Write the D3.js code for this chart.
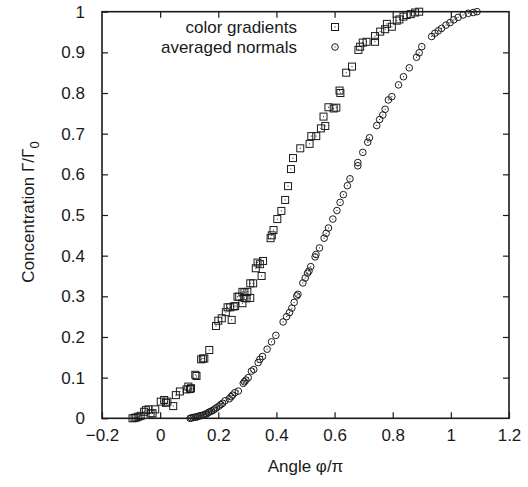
<!DOCTYPE html>
<html>
<head>
<meta charset="utf-8">
<script src="https://cdn.jsdelivr.net/npm/d3@7"></script>
<style>
body { margin: 0; background: #fff; }
text { font-family: "Liberation Sans", Arial, Helvetica, sans-serif; }
</style>
</head>
<body>
<svg id="chart" width="528" height="487"></svg>
<script>
// color gradients (squares)
var gradX = [-0.095, -0.088, -0.082, -0.075, -0.067, -0.055, -0.049, -0.040, -0.033, -0.026,
    -0.017, 0.002, 0.014, 0.020, 0.025, 0.045, 0.054, 0.068, 0.091, 0.097,
    0.103, 0.106, 0.121, 0.125, 0.141, 0.147, 0.152, 0.169, 0.192, 0.200,
    0.212, 0.226, 0.232, 0.241, 0.246, 0.253, 0.258, 0.266, 0.272, 0.283,
    0.283, 0.290, 0.290, 0.297, 0.300, 0.310, 0.310, 0.320, 0.329, 0.335,
    0.343, 0.349, 0.354, 0.380, 0.384, 0.390, 0.403, 0.417, 0.430, 0.440,
    0.450, 0.457, 0.482, 0.514, 0.520, 0.537, 0.553, 0.568, 0.562, 0.579,
    0.597, 0.606, 0.617, 0.620, 0.640, 0.660, 0.682, 0.688, 0.697, 0.710,
    0.739, 0.739, 0.757, 0.774, 0.780, 0.797, 0.814, 0.823, 0.837, 0.848,
    0.862, 0.877, 0.891];
var gradY = [0.000, 0.001, 0.002, 0.004, 0.006, 0.016, 0.020, 0.022, 0.012, 0.012,
    0.022, 0.041, 0.045, 0.038, 0.041, 0.030, 0.057, 0.066, 0.071, 0.078,
    0.072, 0.074, 0.107, 0.104, 0.145, 0.147, 0.147, 0.168, 0.227, 0.240,
    0.246, 0.261, 0.273, 0.273, 0.242, 0.275, 0.276, 0.299, 0.299, 0.283,
    0.311, 0.310, 0.296, 0.295, 0.311, 0.296, 0.332, 0.332, 0.369, 0.383,
    0.379, 0.350, 0.387, 0.443, 0.450, 0.463, 0.490, 0.510, 0.537, 0.571,
    0.613, 0.640, 0.664, 0.675, 0.694, 0.694, 0.713, 0.719, 0.742, 0.765,
    0.762, 0.764, 0.806, 0.800, 0.850, 0.865, 0.906, 0.914, 0.924, 0.926,
    0.926, 0.940, 0.951, 0.957, 0.970, 0.963, 0.978, 0.981, 0.988, 0.992,
    0.994, 0.998, 1.000];

// averaged normals (circles)
var normX = [0.103, 0.108, 0.114, 0.120, 0.126, 0.131, 0.137, 0.143, 0.149, 0.155,
    0.160, 0.166, 0.171, 0.177, 0.183, 0.188, 0.194, 0.203, 0.209, 0.215,
    0.223, 0.238, 0.244, 0.249, 0.257, 0.269, 0.286, 0.290, 0.295, 0.303,
    0.314, 0.322, 0.337, 0.343, 0.352, 0.368, 0.383, 0.398, 0.423, 0.435,
    0.445, 0.453, 0.461, 0.470, 0.474, 0.491, 0.499, 0.507, 0.512, 0.518,
    0.533, 0.536, 0.548, 0.564, 0.571, 0.579, 0.594, 0.608, 0.619, 0.630,
    0.644, 0.653, 0.680, 0.680, 0.697, 0.714, 0.720, 0.745, 0.755, 0.766,
    0.774, 0.785, 0.797, 0.820, 0.837, 0.857, 0.882, 0.891, 0.900, 0.934,
    0.945, 0.957, 0.968, 0.983, 0.997, 1.010, 1.025, 1.042, 1.060, 1.077,
    1.090];
var normY = [0.000, 0.001, 0.002, 0.003, 0.003, 0.005, 0.006, 0.007, 0.008, 0.010,
    0.011, 0.014, 0.016, 0.018, 0.020, 0.023, 0.026, 0.030, 0.034, 0.037,
    0.043, 0.048, 0.053, 0.057, 0.063, 0.067, 0.086, 0.090, 0.094, 0.100,
    0.116, 0.120, 0.137, 0.145, 0.152, 0.170, 0.188, 0.204, 0.237, 0.250,
    0.260, 0.271, 0.285, 0.301, 0.305, 0.333, 0.345, 0.357, 0.362, 0.373,
    0.397, 0.403, 0.419, 0.443, 0.455, 0.468, 0.490, 0.511, 0.531, 0.550,
    0.572, 0.589, 0.621, 0.629, 0.654, 0.679, 0.690, 0.720, 0.735, 0.746,
    0.760, 0.783, 0.791, 0.820, 0.840, 0.862, 0.888, 0.899, 0.914, 0.939,
    0.947, 0.953, 0.959, 0.967, 0.973, 0.980, 0.986, 0.992, 0.996, 0.998,
    1.000];

var xTicks = [-0.2, 0, 0.2, 0.4, 0.6, 0.8, 1, 1.2];
var xTickLabels = ["\u22120.2", "0", "0.2", "0.4", "0.6", "0.8", "1", "1.2"];
var yTicks = [0, 0.1, 0.2, 0.3, 0.4, 0.5, 0.6, 0.7, 0.8, 0.9, 1];
var yTickLabels = ["0", "0.1", "0.2", "0.3", "0.4", "0.5", "0.6", "0.7", "0.8", "0.9", "1"];
var legendLabels = ["color gradients", "averaged normals"];

var svg = d3.select("#chart");
var plotLeft = 102, plotRight = 509, plotTop = 11.7, plotBottom = 418.3;
var ink = "#1a1a1a";
var fontSize = 17;

var x = d3.scaleLinear().domain([-0.2, 1.2]).range([plotLeft, plotRight]);
var y = d3.scaleLinear().domain([0, 1]).range([plotBottom, plotTop]);

var style_axis = function(g) {
    g.select(".domain").remove();
    g.selectAll(".tick line").attr("stroke", ink).attr("stroke-width", 1.2);
    g.selectAll(".tick text").attr("fill", ink).attr("font-size", fontSize)
        .attr("font-family", "'Liberation Sans', Arial, sans-serif");
};

svg.append("g").attr("transform", "translate(0," + plotBottom + ")")
    .call(d3.axisBottom(x).tickValues(xTicks).tickSizeInner(-6).tickSizeOuter(0).tickPadding(11)
        .tickFormat(function(d, i) { return xTickLabels[i]; }))
    .call(style_axis);
svg.append("g").attr("transform", "translate(0," + plotTop + ")")
    .call(d3.axisTop(x).tickValues(xTicks.slice(1, -1)).tickSizeInner(-6).tickSizeOuter(0).tickFormat(""))
    .call(style_axis);
svg.append("g").attr("transform", "translate(" + plotLeft + ",0)")
    .call(d3.axisLeft(y).tickValues(yTicks).tickSizeInner(-6).tickSizeOuter(0).tickPadding(17)
        .tickFormat(function(d, i) { return yTickLabels[i]; }))
    .call(style_axis);
svg.append("g").attr("transform", "translate(" + plotRight + ",0)")
    .call(d3.axisRight(y).tickValues(yTicks.slice(1, -1)).tickSizeInner(-6).tickSizeOuter(0).tickFormat(""))
    .call(style_axis);

svg.append("rect")
    .attr("x", plotLeft).attr("y", plotTop)
    .attr("width", plotRight - plotLeft).attr("height", plotBottom - plotTop)
    .attr("fill", "none").attr("stroke", ink).attr("stroke-width", 1.6);

var draw_square = function(sel, cx, cy) {
    sel.append("rect").attr("x", cx - 3.5).attr("y", cy - 3.5).attr("width", 7).attr("height", 7)
        .attr("fill", "none").attr("stroke", ink).attr("stroke-width", 1);
    sel.append("rect").attr("x", cx - 0.5).attr("y", cy - 0.5).attr("width", 1).attr("height", 1)
        .attr("fill", ink);
};

var draw_circle = function(sel, cx, cy) {
    sel.append("circle").attr("cx", cx).attr("cy", cy).attr("r", 3.3)
        .attr("fill", "none").attr("stroke", ink).attr("stroke-width", 1);
    sel.append("rect").attr("x", cx - 0.5).attr("y", cy - 0.5).attr("width", 1).attr("height", 1)
        .attr("fill", ink);
};

var gradPts = gradX.map(function(d, i) { return [d, gradY[i]]; });
var normPts = normX.map(function(d, i) { return [d, normY[i]]; });

svg.append("g").selectAll("g").data(gradPts).enter().append("g")
    .each(function(d) { draw_square(d3.select(this), x(d[0]), y(d[1])); });
svg.append("g").selectAll("g").data(normPts).enter().append("g")
    .each(function(d) { draw_circle(d3.select(this), x(d[0]), y(d[1])); });

// legend
var legend = svg.append("g");
legend.selectAll("text").data(legendLabels).enter().append("text")
    .attr("x", 297)
    .attr("y", function(d, i) { return 27 + i * 20; })
    .attr("dy", "0.35em")
    .attr("text-anchor", "end")
    .attr("font-size", fontSize)
    .attr("fill", ink)
    .text(function(d) { return d; });
draw_square(legend, 335, 27);
draw_circle(legend, 335, 47);

// axis titles
svg.append("text")
    .attr("x", (plotLeft + plotRight) / 2).attr("y", 472)
    .attr("text-anchor", "middle").attr("font-size", fontSize).attr("fill", ink)
    .text("Angle \u03c6/\u03c0");

var ylab = svg.append("text")
    .attr("transform", "translate(34,212) rotate(-90)")
    .attr("text-anchor", "middle").attr("font-size", fontSize).attr("fill", ink);
ylab.append("tspan").text("Concentration \u0393/\u0393");
ylab.append("tspan").attr("font-size", 13).attr("dy", 5).text("0");
</script>
</body>
</html>
